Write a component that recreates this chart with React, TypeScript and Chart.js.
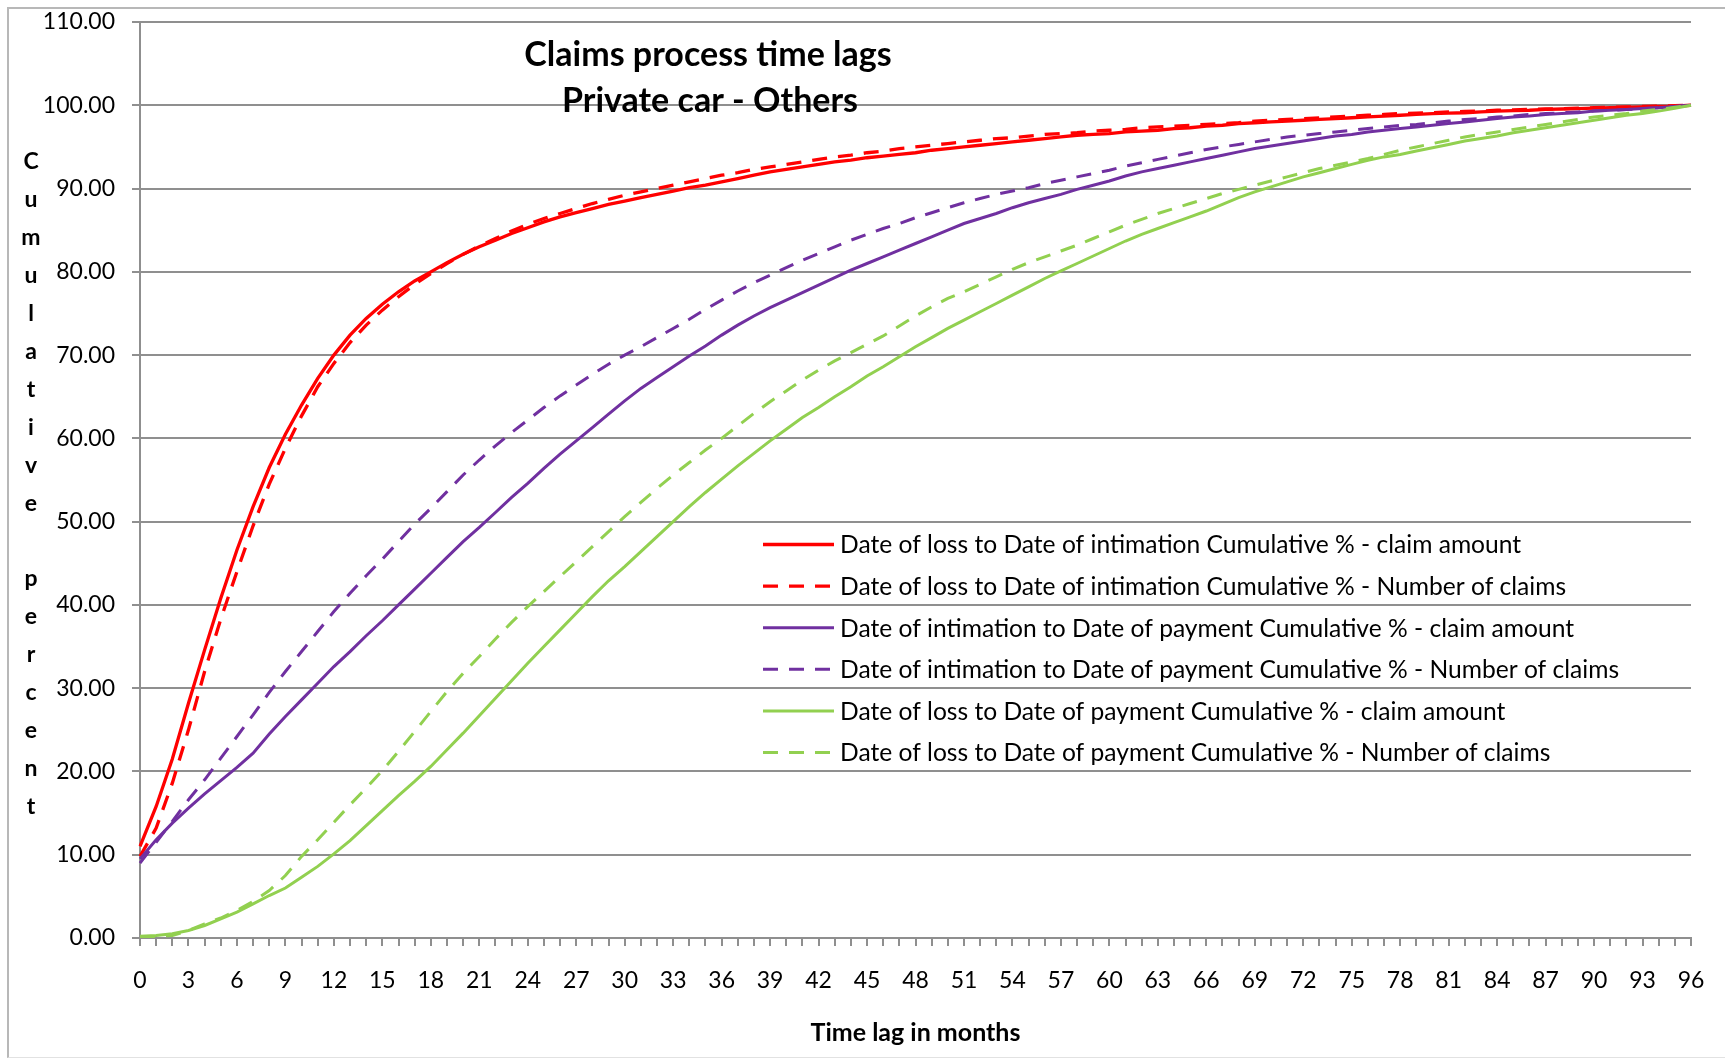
import React, { useEffect, useRef } from 'react';
import { Chart, registerables } from 'chart.js';

Chart.register(...registerables);

const FONT = 'Lato';
const GRID = '#8f8f8f';

const titleLines = ['Claims process time lags', 'Private car - Others'];
const xAxisTitle = 'Time lag in months';
const yAxisTitle = 'Cumulative percent';

const months = [
  0, 1, 2, 3, 4, 5, 6, 7, 8, 9, 10, 11, 12, 13, 14, 15, 16, 17, 18, 19, 20, 21, 22, 23, 24,
  25, 26, 27, 28, 29, 30, 31, 32, 33, 34, 35, 36, 37, 38, 39, 40, 41, 42, 43, 44, 45, 46, 47,
  48, 49, 50, 51, 52, 53, 54, 55, 56, 57, 58, 59, 60, 61, 62, 63, 64, 65, 66, 67, 68, 69, 70,
  71, 72, 73, 74, 75, 76, 77, 78, 79, 80, 81, 82, 83, 84, 85, 86, 87, 88, 89, 90, 91, 92, 93,
  94, 95, 96,
];

const seriesLabels = [
  'Date of loss to Date of intimation Cumulative % - claim amount',
  'Date of loss to Date of intimation Cumulative % - Number of claims',
  'Date of intimation to Date of payment Cumulative % - claim amount',
  'Date of intimation to Date of payment Cumulative % - Number of claims',
  'Date of loss to Date of payment Cumulative % - claim amount',
  'Date of loss to Date of payment Cumulative % - Number of claims',
];

const lossToIntimationAmount = [
  11.0, 15.8, 21.5, 28.2, 34.6, 40.8, 46.6, 51.8, 56.5, 60.5,
  64.0, 67.2, 70.0, 72.4, 74.4, 76.1, 77.6, 78.9, 80.0, 81.1,
  82.1, 83.0, 83.8, 84.6, 85.3, 86.0, 86.6, 87.1, 87.6, 88.1,
  88.5, 88.9, 89.3, 89.7, 90.1, 90.4, 90.8, 91.2, 91.6, 92.0,
  92.3, 92.6, 92.9, 93.2, 93.4, 93.7, 93.9, 94.1, 94.3, 94.6,
  94.8, 95.0, 95.2, 95.4, 95.6, 95.8, 96.0, 96.2, 96.4, 96.5,
  96.6, 96.8, 96.9, 97.0, 97.2, 97.3, 97.5, 97.6, 97.8, 97.9,
  98.0, 98.1, 98.2, 98.3, 98.4, 98.5, 98.6, 98.7, 98.8, 98.9,
  99.0, 99.05, 99.1, 99.2, 99.3, 99.35, 99.4, 99.5, 99.55, 99.6,
  99.65, 99.7, 99.75, 99.8, 99.85, 99.9, 100,
];

const lossToIntimationCount = [
  9.8, 13.2, 18.6, 25.0, 32.0, 38.3, 44.0, 49.5, 54.5, 58.8,
  62.7, 66.2, 69.0, 71.5, 73.6, 75.4, 77.0, 78.5, 79.8, 81.0,
  82.1, 83.1, 84.0, 84.9, 85.7, 86.4, 87.0, 87.6, 88.2, 88.7,
  89.2, 89.6, 90.0, 90.4, 90.8, 91.2, 91.6, 91.9, 92.3, 92.6,
  92.9, 93.2, 93.5, 93.8, 94.0, 94.3, 94.5, 94.8, 95.0, 95.2,
  95.4, 95.6, 95.8, 96.0, 96.1, 96.3, 96.5, 96.6, 96.7, 96.9,
  97.0, 97.1, 97.3, 97.4, 97.5, 97.6, 97.7, 97.8, 97.9, 98.1,
  98.2, 98.3, 98.4, 98.5, 98.6, 98.7, 98.8, 98.9, 99.0, 99.05,
  99.1, 99.2, 99.25, 99.3, 99.4, 99.45, 99.5, 99.55, 99.6, 99.65,
  99.7, 99.75, 99.8, 99.85, 99.9, 99.95, 100,
];

const intimationToPaymentAmount = [
  9.5, 11.8, 13.8, 15.6, 17.3, 18.9, 20.5, 22.2, 24.5, 26.6,
  28.6, 30.6, 32.6, 34.4, 36.3, 38.1, 40.0, 41.9, 43.8, 45.7,
  47.6, 49.3, 51.1, 52.9, 54.6, 56.4, 58.1, 59.7, 61.3, 62.9,
  64.5, 66.0, 67.3, 68.6, 69.9, 71.1, 72.4, 73.6, 74.7, 75.7,
  76.6, 77.5, 78.4, 79.3, 80.2, 81.0, 81.8, 82.6, 83.4, 84.2,
  85.0, 85.8, 86.4, 87.0, 87.7, 88.3, 88.8, 89.3, 89.9, 90.4,
  90.9, 91.5, 92.0, 92.4, 92.8, 93.2, 93.6, 94.0, 94.4, 94.8,
  95.1, 95.4, 95.7, 96.0, 96.3, 96.5, 96.8, 97.0, 97.2, 97.4,
  97.6, 97.8, 98.0, 98.2, 98.4, 98.6, 98.7, 98.9, 99.0, 99.1,
  99.3, 99.4, 99.5, 99.6, 99.7, 99.85, 100,
];

const intimationToPaymentCount = [
  9.0, 11.5, 14.0, 16.6, 19.0, 21.6, 24.2, 26.8, 29.5, 32.0,
  34.4, 36.8, 39.2, 41.4, 43.5, 45.5, 47.6, 49.7, 51.6, 53.6,
  55.6, 57.4, 59.1, 60.7, 62.2, 63.7, 65.1, 66.4, 67.7, 68.9,
  70.0, 71.0, 72.1, 73.2, 74.3, 75.5, 76.6, 77.7, 78.7, 79.6,
  80.5, 81.4, 82.2, 83.0, 83.8, 84.5, 85.2, 85.8, 86.5, 87.1,
  87.7, 88.3, 88.8, 89.3, 89.7, 90.1, 90.6, 91.0, 91.4, 91.8,
  92.2, 92.7, 93.1, 93.5, 93.9, 94.3, 94.7, 95.0, 95.3, 95.6,
  95.9, 96.2, 96.4, 96.6, 96.8, 97.0, 97.2, 97.4, 97.6, 97.7,
  97.9, 98.1, 98.3, 98.4, 98.6, 98.7, 98.9, 99.0, 99.1, 99.2,
  99.3, 99.4, 99.5, 99.6, 99.7, 99.85, 100,
];

const lossToPaymentAmount = [
  0.2, 0.3, 0.5, 0.9, 1.5, 2.3, 3.1, 4.1, 5.1, 6.0,
  7.3, 8.6, 10.1, 11.7, 13.5, 15.3, 17.1, 18.8, 20.6, 22.6,
  24.6, 26.7, 28.8, 30.9, 33.0, 35.0, 37.0, 39.0, 41.0, 42.9,
  44.6, 46.4, 48.2, 50.0, 51.8, 53.5, 55.1, 56.7, 58.2, 59.7,
  61.1, 62.5, 63.7, 65.0, 66.2, 67.5, 68.6, 69.8, 71.0, 72.1,
  73.2, 74.2, 75.2, 76.2, 77.2, 78.2, 79.2, 80.1, 81.0, 81.9,
  82.8, 83.7, 84.5, 85.2, 85.9, 86.6, 87.3, 88.1, 88.9, 89.6,
  90.2, 90.8, 91.4, 91.9, 92.4, 92.9, 93.4, 93.8, 94.1, 94.5,
  94.9, 95.3, 95.7, 96.0, 96.3, 96.7, 97.0, 97.3, 97.6, 97.9,
  98.2, 98.5, 98.8, 99.0, 99.3, 99.65, 100,
];

const lossToPaymentCount = [
  0.1, 0.2, 0.3, 0.9, 1.7, 2.4, 3.3, 4.4, 5.7, 7.5,
  9.8, 11.8, 13.9, 16.0, 18.0, 20.1, 22.4, 24.8, 27.2, 29.6,
  31.8, 33.8, 35.9, 37.9, 39.8, 41.6, 43.4, 45.2, 47.0, 48.8,
  50.6, 52.3, 54.0, 55.6, 57.1, 58.6, 60.0, 61.5, 63.0, 64.4,
  65.7, 67.0, 68.2, 69.3, 70.3, 71.3, 72.3, 73.5, 74.7, 75.8,
  76.8, 77.6, 78.5, 79.4, 80.3, 81.1, 81.8, 82.5, 83.2, 84.0,
  84.8, 85.6, 86.3, 87.0, 87.6, 88.2, 88.8, 89.4, 89.9, 90.4,
  90.9, 91.4, 91.9, 92.4, 92.8, 93.2, 93.6, 94.1, 94.6, 95.0,
  95.4, 95.8, 96.2, 96.5, 96.8, 97.1, 97.4, 97.7, 98.0, 98.3,
  98.6, 98.8, 99.0, 99.3, 99.5, 99.75, 100,
];

const seriesValues = [
  lossToIntimationAmount,
  lossToIntimationCount,
  intimationToPaymentAmount,
  intimationToPaymentCount,
  lossToPaymentAmount,
  lossToPaymentCount,
];
const seriesColors = ['#FF0000', '#FF0000', '#7030A0', '#7030A0', '#92D050', '#92D050'];
const seriesDashed = [false, true, false, true, false, true];
const seriesWidths = [3.3, 3.3, 3, 3, 3, 3];
const DASH = [15, 11];

const textPlugin = {
  id: 'customText',
  afterDraw(chart: any) {
    const ctx = chart.ctx as CanvasRenderingContext2D;
    const a = chart.chartArea;
    ctx.save();
    ctx.fillStyle = '#000';

    // Title (overlaid in plot)
    ctx.font = `bold 34px ${FONT}`;
    ctx.textAlign = 'center';
    ctx.textBaseline = 'middle';
    ctx.fillText(titleLines[0], 708, 55);
    ctx.fillText(titleLines[1], 710, 101);

    // X axis title
    ctx.font = `bold 25px ${FONT}`;
    ctx.fillText(xAxisTitle, (a.left + a.right) / 2, 1033);

    // Y axis title, stacked letters
    ctx.font = `bold 23px ${FONT}`;
    const letters = yAxisTitle.split('');
    letters.forEach((ch, i) => {
      if (ch !== ' ') ctx.fillText(ch, 31, 162 + i * 37.9);
    });

    // Legend
    ctx.font = `24.6px ${FONT}`;
    ctx.textAlign = 'left';
    chart.data.datasets.forEach((ds: any, i: number) => {
      const y = 544.5 + i * 41.6;
      ctx.save();
      ctx.strokeStyle = ds.borderColor;
      ctx.lineWidth = ds.borderWidth;
      ctx.setLineDash(ds.borderDash || []);
      ctx.beginPath();
      ctx.moveTo(763, y);
      ctx.lineTo(834, y);
      ctx.stroke();
      ctx.restore();
      ctx.fillText(ds.label, 840, y + 1);
    });
    ctx.restore();
  },
};

export default function App() {
  const ref = useRef<HTMLCanvasElement>(null);

  useEffect(() => {
    const datasets = seriesValues.map((vals, i) => ({
      label: seriesLabels[i],
      data: vals,
      borderColor: seriesColors[i],
      backgroundColor: seriesColors[i],
      borderWidth: seriesWidths[i],
      borderDash: seriesDashed[i] ? DASH : [],
      borderCapStyle: 'butt',
      pointRadius: 0,
      tension: 0,
      fill: false,
      order: seriesValues.length - 1 - i,
    }));

    const chart = new Chart(ref.current as HTMLCanvasElement, {
      type: 'line',
      data: { labels: months.map(String), datasets },
      options: {
        responsive: false,
        animation: false,
        layout: { padding: { left: 0, right: 34, top: 22, bottom: 0 } },
        plugins: {
          legend: { display: false },
          tooltip: { enabled: false },
          title: { display: false },
        },
        scales: {
          x: {
            type: 'category',
            offset: false,
            grid: {
              drawOnChartArea: false,
              drawTicks: true,
              tickLength: 8,
              color: GRID,
              lineWidth: 2,
            },
            border: { display: true, color: GRID, width: 2 },
            ticks: {
              autoSkip: false,
              maxRotation: 0,
              minRotation: 0,
              padding: 21,
              color: '#000',
              font: { family: FONT, size: 23 },
              callback: (_v: any, i: number) => (months[i] % 3 === 0 ? String(months[i]) : ''),
            },
            afterFit: (s: any) => {
              s.height = 121;
              s.paddingLeft = 0;
              s.paddingRight = 0;
            },
          },
          y: {
            min: 0,
            max: 110,
            ticks: {
              stepSize: 10,
              padding: 17,
              color: '#000',
              font: { family: FONT, size: 23 },
              callback: (v: any) => Number(v).toFixed(2),
            },
            grid: { color: GRID, lineWidth: 2, tickLength: 8 },
            border: { display: true, color: GRID, width: 2 },
            afterFit: (s: any) => {
              s.width = 140;
              s.paddingTop = 0;
              s.paddingBottom = 0;
            },
          },
        },
      },
      plugins: [textPlugin],
    } as any);

    return () => chart.destroy();
  }, []);

  return (
    <div
      style={{
        position: 'fixed',
        left: 0,
        top: 0,
        width: 1725,
        height: 1059,
        overflow: 'hidden',
        background: '#fff',
      }}
    >
      <div
        style={{
          position: 'absolute',
          left: 7,
          top: 7,
          width: 1740,
          height: 1051,
          boxSizing: 'border-box',
          borderLeft: '2px solid #b8b8b8',
          borderTop: '2px solid #b8b8b8',
          borderBottom: '1px solid #e2e2e2',
        }}
      />
      <canvas
        ref={ref}
        width={1725}
        height={1059}
        style={{ position: 'absolute', left: 0, top: 0, display: 'block' }}
      />
    </div>
  );
}
